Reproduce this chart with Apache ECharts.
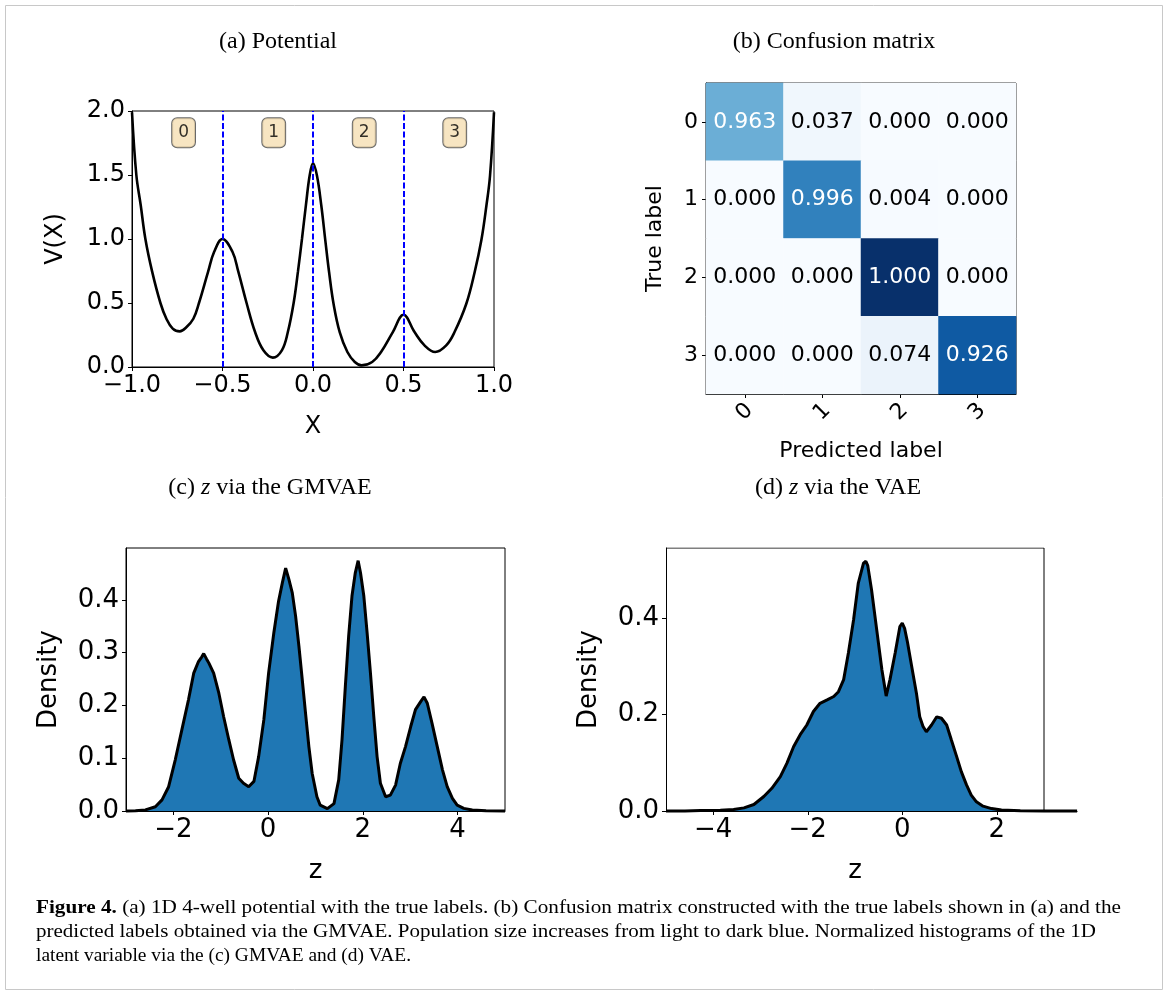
<!DOCTYPE html>
<html><head><meta charset="utf-8">
<script src="https://cdn.jsdelivr.net/npm/echarts@6/dist/echarts.min.js"></script>
<style>html,body{margin:0;padding:0;background:#fff}#c{width:1167px;height:994px}</style>
</head><body><div id="c"></div>
<script>
// ---------- (a) potential ----------
const potentialX = [-1.0,-0.976,-0.952,-0.926,-0.889,-0.843,-0.81,-0.775,-0.736,-0.70,-0.661,-0.63,-0.579,-0.546,-0.50,-0.445,-0.413,-0.367,-0.32,-0.274,-0.222,-0.172,-0.139,-0.107,-0.083,-0.061,-0.039,-0.018,0.0,0.022,0.046,0.068,0.089,0.114,0.148,0.19,0.231,0.268,0.327,0.376,0.441,0.5,0.561,0.616,0.675,0.736,0.782,0.847,0.893,0.93,0.958,0.978,1.0];
const potentialV = [1.99,1.5,1.266,1.0,0.747,0.5,0.377,0.30,0.278,0.31,0.377,0.5,0.747,0.90,1.0,0.90,0.747,0.5,0.273,0.13,0.073,0.13,0.273,0.5,0.747,1.0,1.266,1.5,1.592,1.494,1.26,0.99,0.74,0.49,0.27,0.117,0.039,0.013,0.039,0.117,0.273,0.408,0.273,0.169,0.117,0.169,0.273,0.494,0.74,0.99,1.26,1.494,1.99];
const wellBoundaries = [-0.5, 0.0, 0.5];
const wellLabels = ['0', '1', '2', '3'];
const wellLabelX = [-0.715, -0.217, 0.283, 0.783];
const wellLabelV = [1.83, 1.83, 1.83, 1.83];
const potXTicks = [-1.0, -0.5, 0.0, 0.5, 1.0];
const potYTicks = [0.0, 0.5, 1.0, 1.5, 2.0];

// ---------- (b) confusion matrix ----------
const classLabels = ['0', '1', '2', '3'];
const confusion = [
  [0.963, 0.037, 0.000, 0.000],
  [0.000, 0.996, 0.004, 0.000],
  [0.000, 0.000, 1.000, 0.000],
  [0.000, 0.000, 0.074, 0.926]
];
// relative population (drives the colour, light -> dark blue)
const population = [
  [0.50, 0.035, 0.0, 0.0],
  [0.0, 0.69, 0.004, 0.0],
  [0.0, 0.0, 1.0, 0.0],
  [0.0, 0.0, 0.06, 0.84]
];

// ---------- (c) GMVAE latent histogram ----------
const gmvaeZ = [-3.0,-2.8,-2.59,-2.38,-2.24,-2.10,-1.96,-1.82,-1.68,-1.57,-1.47,-1.40,-1.36,-1.30,-1.25,-1.15,-1.04,-0.94,-0.83,-0.73,-0.62,-0.52,-0.41,-0.30,-0.20,-0.09,0.01,0.12,0.22,0.30,0.37,0.44,0.51,0.58,0.65,0.72,0.79,0.86,0.93,1.03,1.10,1.25,1.39,1.49,1.56,1.63,1.70,1.77,1.84,1.90,1.95,2.02,2.09,2.16,2.23,2.30,2.37,2.48,2.58,2.69,2.79,2.90,3.01,3.11,3.22,3.29,3.36,3.46,3.57,3.68,3.78,3.89,3.99,4.13,4.31,4.6,5.0];
const gmvaeDensity = [0.0,0.0005,0.002,0.008,0.021,0.046,0.097,0.154,0.211,0.261,0.283,0.292,0.298,0.288,0.280,0.261,0.223,0.179,0.135,0.097,0.062,0.0525,0.046,0.056,0.103,0.173,0.261,0.337,0.397,0.432,0.460,0.438,0.413,0.369,0.312,0.249,0.185,0.122,0.071,0.027,0.011,0.0045,0.014,0.059,0.135,0.236,0.331,0.407,0.451,0.474,0.451,0.407,0.337,0.261,0.179,0.103,0.0525,0.027,0.030,0.049,0.090,0.122,0.160,0.192,0.207,0.216,0.204,0.166,0.122,0.078,0.046,0.024,0.011,0.005,0.002,0.0005,0.0];
const gmvaeXTicks = [-2, 0, 2, 4];
const gmvaeYTicks = [0.0, 0.1, 0.2, 0.3, 0.4];
const gmvaeRange = { xMin: -3, xMax: 5, yMax: 0.498 };

// ---------- (d) VAE latent histogram ----------
const vaeZ = [-5.0,-4.6,-4.27,-3.85,-3.57,-3.35,-3.14,-2.93,-2.76,-2.58,-2.44,-2.30,-2.16,-2.02,-1.88,-1.74,-1.59,-1.45,-1.35,-1.24,-1.14,-1.03,-0.93,-0.82,-0.77,-0.73,-0.65,-0.54,-0.43,-0.34,-0.26,-0.15,-0.05,0.0,0.05,0.11,0.20,0.30,0.37,0.44,0.51,0.62,0.73,0.83,0.94,1.04,1.15,1.25,1.36,1.46,1.57,1.71,1.89,2.10,2.5,3.0,3.7];
const vaeDensity = [0.0,0.0,0.0008,0.0014,0.003,0.0065,0.0134,0.030,0.047,0.071,0.099,0.133,0.158,0.178,0.206,0.223,0.230,0.237,0.247,0.272,0.327,0.396,0.472,0.513,0.517,0.508,0.458,0.375,0.292,0.238,0.272,0.327,0.382,0.389,0.378,0.350,0.299,0.244,0.195,0.175,0.164,0.178,0.195,0.192,0.178,0.147,0.113,0.0815,0.054,0.033,0.019,0.010,0.005,0.002,0.0005,0.0,0.0];
const vaeXTicks = [-4, -2, 0, 2];
const vaeYTicks = [0.0, 0.2, 0.4];
const vaeRange = { xMin: -5, xMax: 3, yMax: 0.5445, dataEnd: 3.7 };

// ---------- texts ----------
const panelTitles = ['(a) Potential', '(b) Confusion matrix', '(c) {i|z} via the GMVAE', '(d) {i|z} via the VAE'];
const captionLines = [
  '{b|Figure 4.} (a) 1D 4-well potential with the true labels. (b) Confusion matrix constructed with the true labels shown in (a) and the',
  'predicted labels obtained via the GMVAE. Population size increases from light to dark blue. Normalized histograms of the 1D',
  'latent variable via the (c) GMVAE and (d) VAE.'
];

// ---------- helpers ----------
const FONT = 'DejaVu Sans';
const pair = (xs, ys) => xs.map((x, i) => [x, ys[i]]);
const minus = s => s.replace('-', '\u2212');
const fmt1 = v => minus(Number(v).toFixed(1));
const fmt0 = v => minus(String(Math.round(v)));

function valueAxis(o) {
  return {
    type: 'value', gridIndex: o.grid, min: o.min, max: o.max,
    interval: o.interval,
    name: o.name, nameLocation: 'middle', nameGap: o.nameGap,
    nameTextStyle: { fontFamily: FONT, fontSize: o.fs, color: '#000', padding: o.namePad || 0 },
    axisLine: { show: true, onZero: false, lineStyle: { color: '#000', width: 1 } },
    axisTick: { show: true, length: 4, lineStyle: { color: '#000', width: 1 }, customValues: o.ticks },
    axisLabel: { show: true, fontFamily: FONT, fontSize: o.fs, color: '#000', margin: o.margin,
                 formatter: o.fmt, customValues: o.ticks, showMinLabel: true, showMaxLabel: true },
    splitLine: { show: false }
  };
}

const heatData = [];
confusion.forEach((row, r) => row.forEach((v, c) => heatData.push([c, r, v, population[r][c]])));

// caption: fit each line to the measured extent of the reference lines
const captionEnds = [1121, 1096, 411];
const CAP_FS = 19.5;
const mctx = document.createElement('canvas').getContext('2d');
function measureLine(t) {
  let w = 0;
  const m = t.match(/^\{b\|(.*?)\}(.*)$/);
  if (m) {
    mctx.font = 'bold ' + CAP_FS + 'px "Liberation Serif"'; w += mctx.measureText(m[1]).width;
    t = m[2];
  }
  mctx.font = CAP_FS + 'px "Liberation Serif"'; w += mctx.measureText(t).width;
  return w;
}

const gw = 378; // frame width of the VAE axes (z from -5 to 3)
const vaeGridWidth = gw * (vaeRange.dataEnd - vaeRange.xMin) / (vaeRange.xMax - vaeRange.xMin);
const vaeNameShift = 2 * (vaeGridWidth - gw) / 2;

const option = {
  animation: false,
  backgroundColor: '#fff',
  grid: [
    { left: 132, top: 111, width: 362, height: 256, show: true, borderColor: '#000', borderWidth: 1, backgroundColor: 'transparent' },
    { left: 706, top: 83, width: 310, height: 311, show: true, borderColor: '#000', borderWidth: 1, backgroundColor: 'transparent' },
    { left: 126, top: 548, width: 379, height: 263, show: true, borderColor: '#000', borderWidth: 1, backgroundColor: 'transparent' },
    { left: 666, top: 548, width: vaeGridWidth, height: 263, show: false }
  ],
  xAxis: [
    valueAxis({ grid: 0, min: -1, max: 1, interval: 0.5, ticks: potXTicks, fmt: fmt1, name: 'X', nameGap: 48, margin: 7, fs: 24 }),
    {
      type: 'category', gridIndex: 1, data: classLabels,
      name: 'Predicted label', nameLocation: 'middle', nameGap: 46,
      nameTextStyle: { fontFamily: FONT, fontSize: 22, color: '#000' },
      axisLine: { show: true, lineStyle: { color: '#000' } },
      axisTick: { show: true, alignWithLabel: true, length: 4, lineStyle: { color: '#000' } },
      axisLabel: { fontFamily: FONT, fontSize: 22, color: '#000', rotate: 45, margin: 18, align: 'center', verticalAlign: 'middle' },
      splitLine: { show: false }
    },
    valueAxis({ grid: 2, min: gmvaeRange.xMin, max: gmvaeRange.xMax, interval: 1, ticks: gmvaeXTicks, fmt: fmt0, name: 'z', nameGap: 47, margin: 6, fs: 26 }),
    valueAxis({ grid: 3, min: vaeRange.xMin, max: vaeRange.dataEnd, interval: 1, ticks: vaeXTicks, fmt: fmt0, name: 'z', nameGap: 47, margin: 6, fs: 26,
                namePad: [0, vaeNameShift, 0, 0] })
  ],
  yAxis: [
    valueAxis({ grid: 0, min: 0, max: 2, interval: 0.5, ticks: potYTicks, fmt: fmt1, name: 'V(X)', nameGap: 64, margin: 7, fs: 24 }),
    {
      type: 'category', gridIndex: 1, data: classLabels, inverse: true,
      name: 'True label', nameLocation: 'middle', nameGap: 40,
      nameTextStyle: { fontFamily: FONT, fontSize: 22, color: '#000' },
      axisLine: { show: true, lineStyle: { color: '#000' } },
      axisTick: { show: true, alignWithLabel: true, length: 4, lineStyle: { color: '#000' } },
      axisLabel: { fontFamily: FONT, fontSize: 22, color: '#000', margin: 8 },
      splitLine: { show: false }
    },
    valueAxis({ grid: 2, min: 0, max: gmvaeRange.yMax, interval: 0.1, ticks: gmvaeYTicks, fmt: fmt1, name: 'Density', nameGap: 64, margin: 7, fs: 26 }),
    valueAxis({ grid: 3, min: 0, max: vaeRange.yMax, interval: 0.2, ticks: vaeYTicks, fmt: fmt1, name: 'Density', nameGap: 64, margin: 7, fs: 26 })
  ],
  visualMap: {
    show: false, seriesIndex: 2, dimension: 3, min: 0, max: 1,
    inRange: { color: ['#f7fbff', '#deebf7', '#c6dbef', '#9ecae1', '#6baed6', '#4292c6', '#2171b5', '#08519c', '#08306b'] }
  },
  series: [
    {
      type: 'line', xAxisIndex: 0, yAxisIndex: 0, data: pair(potentialX, potentialV),
      smooth: 0.4, symbol: 'none', z: 3,
      lineStyle: { color: '#000', width: 2.6 },
      markLine: {
        silent: true, symbol: 'none', label: { show: false }, animation: false,
        lineStyle: { color: '#0000ff', type: [6, 2.5], width: 2 },
        data: wellBoundaries.map(x => ({ xAxis: x }))
      }
    },
    {
      type: 'scatter', xAxisIndex: 0, yAxisIndex: 0, symbolSize: 1, z: 5,
      itemStyle: { color: 'rgba(0,0,0,0)' },
      data: wellLabelX.map((x, i) => ({ value: [x, wellLabelV[i]], name: wellLabels[i] })),
      label: {
        show: true, position: 'inside', formatter: p => p.name,
        fontFamily: FONT, fontSize: 17, color: '#000', lineHeight: 19,
        backgroundColor: '#f5deb3', borderColor: '#444', borderWidth: 1, borderRadius: 5,
        padding: [5, 6, 5, 6]
      }
    },
    {
      type: 'heatmap', xAxisIndex: 1, yAxisIndex: 1,
      data: heatData.map(d => ({ value: d, label: { color: d[2] > 0.5 ? '#fff' : '#000' } })),
      label: { show: true, fontFamily: FONT, fontSize: 22, formatter: p => p.value[2].toFixed(3) },
      itemStyle: { borderWidth: 0 }
    },
    {
      type: 'line', xAxisIndex: 2, yAxisIndex: 2, data: pair(gmvaeZ, gmvaeDensity),
      symbol: 'none', clip: false,
      lineStyle: { color: '#000', width: 3 },
      areaStyle: { color: '#1f77b4', opacity: 1 }
    },
    {
      type: 'line', xAxisIndex: 3, yAxisIndex: 3, data: pair(vaeZ, vaeDensity),
      symbol: 'none', clip: false, z: 3,
      lineStyle: { color: '#000', width: 3 },
      areaStyle: { color: '#1f77b4', opacity: 1 }
    },
    { // top and right spines of the VAE axes (frame ends at z = 3)
      type: 'line', xAxisIndex: 3, yAxisIndex: 3, symbol: 'none', silent: true, z: 4,
      data: [[vaeRange.xMin, vaeRange.yMax], [vaeRange.xMax, vaeRange.yMax], [vaeRange.xMax, 0]],
      lineStyle: { color: '#000', width: 1 }
    }
  ],
  graphic: [
    { type: 'rect', shape: { x: 5.5, y: 5.5, width: 1157, height: 984 }, style: { fill: 'none', stroke: '#c8c8c8', lineWidth: 1 }, z: -1 }
  ]
};

const titlePos = [[278, 42], [834, 42], [270, 488], [838, 488]];
panelTitles.forEach((t, i) => option.graphic.push({
  type: 'text', x: titlePos[i][0], y: titlePos[i][1],
  style: { text: t, font: '24px "Liberation Serif"', fill: '#000', align: 'center', verticalAlign: 'middle',
           rich: { i: { font: 'italic 24px "Liberation Serif"' } } }
}));
const capY = [908, 932, 956];
captionLines.forEach((t, i) => {
  const sx = (captionEnds[i] - 36) / measureLine(t);
  option.graphic.push({
    type: 'text', x: 36, y: capY[i], scaleX: sx,
    style: { text: t, font: CAP_FS + 'px "Liberation Serif"', fill: '#000', verticalAlign: 'middle',
             rich: { b: { font: 'bold ' + CAP_FS + 'px "Liberation Serif"' } } }
  });
});

const chart = echarts.init(document.getElementById('c'), null, { renderer: 'canvas', width: 1167, height: 994 });
chart.setOption(option);
</script>
</body></html>
